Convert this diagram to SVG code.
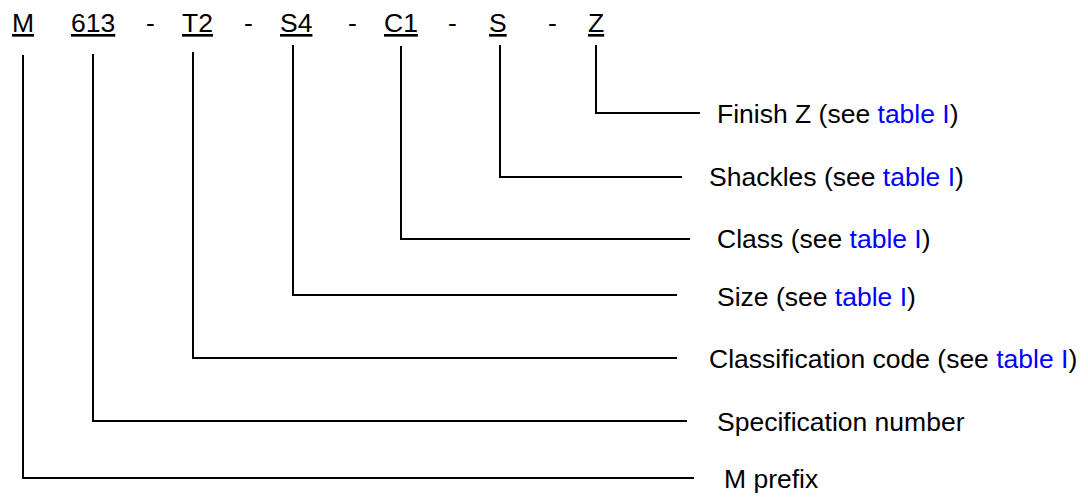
<svg xmlns="http://www.w3.org/2000/svg" width="1088" height="497" viewBox="0 0 1088 497">
<style>
text{font-family:"Liberation Sans",Arial,sans-serif;font-size:26.5px;fill:#000}
.u{text-decoration:underline}
.b{fill:#0000ff}
.c{fill:none;stroke:#000;stroke-width:2}
</style>
<rect width="1088" height="497" fill="#fff"/>
<g id="code">
<text class="u" x="12" y="32">M</text>
<text class="u" x="71" y="32">613</text>
<text x="146" y="32">-</text>
<text class="u" x="182" y="32">T2</text>
<text x="244" y="32">-</text>
<text class="u" x="280" y="32">S4</text>
<text x="348" y="32">-</text>
<text class="u" x="384" y="32">C1</text>
<text x="448" y="32">-</text>
<text class="u" x="489" y="32">S</text>
<text x="548" y="32">-</text>
<text class="u" x="588" y="32">Z</text>
</g>
<g id="connectors">
<polyline class="c" points="596,45 596,113 700,113"/>
<polyline class="c" points="500,45 500,177 682,177"/>
<polyline class="c" points="401,46 401,239 690,239"/>
<polyline class="c" points="293,45 293,295 677,295"/>
<polyline class="c" points="193,52 193,358 677,358"/>
<polyline class="c" points="93,54 93,421 687,421"/>
<polyline class="c" points="23,55 23,478 694,478"/>
</g>
<g id="finish"><text x="717" y="123">Finish Z (see <tspan class="b">table I</tspan>)</text></g>
<g id="shackles"><text x="709" y="186">Shackles (see <tspan class="b">table I</tspan>)</text></g>
<g id="class"><text x="717" y="248">Class (see <tspan class="b">table I</tspan>)</text></g>
<g id="size"><text x="717" y="306">Size (see <tspan class="b">table I</tspan>)</text></g>
<g id="classification"><text x="709" y="368">Classification code (see <tspan class="b">table I</tspan>)</text></g>
<g id="spec"><text x="717" y="431">Specification number</text></g>
<g id="prefix"><text x="724" y="488">M prefix</text></g>
</svg>
